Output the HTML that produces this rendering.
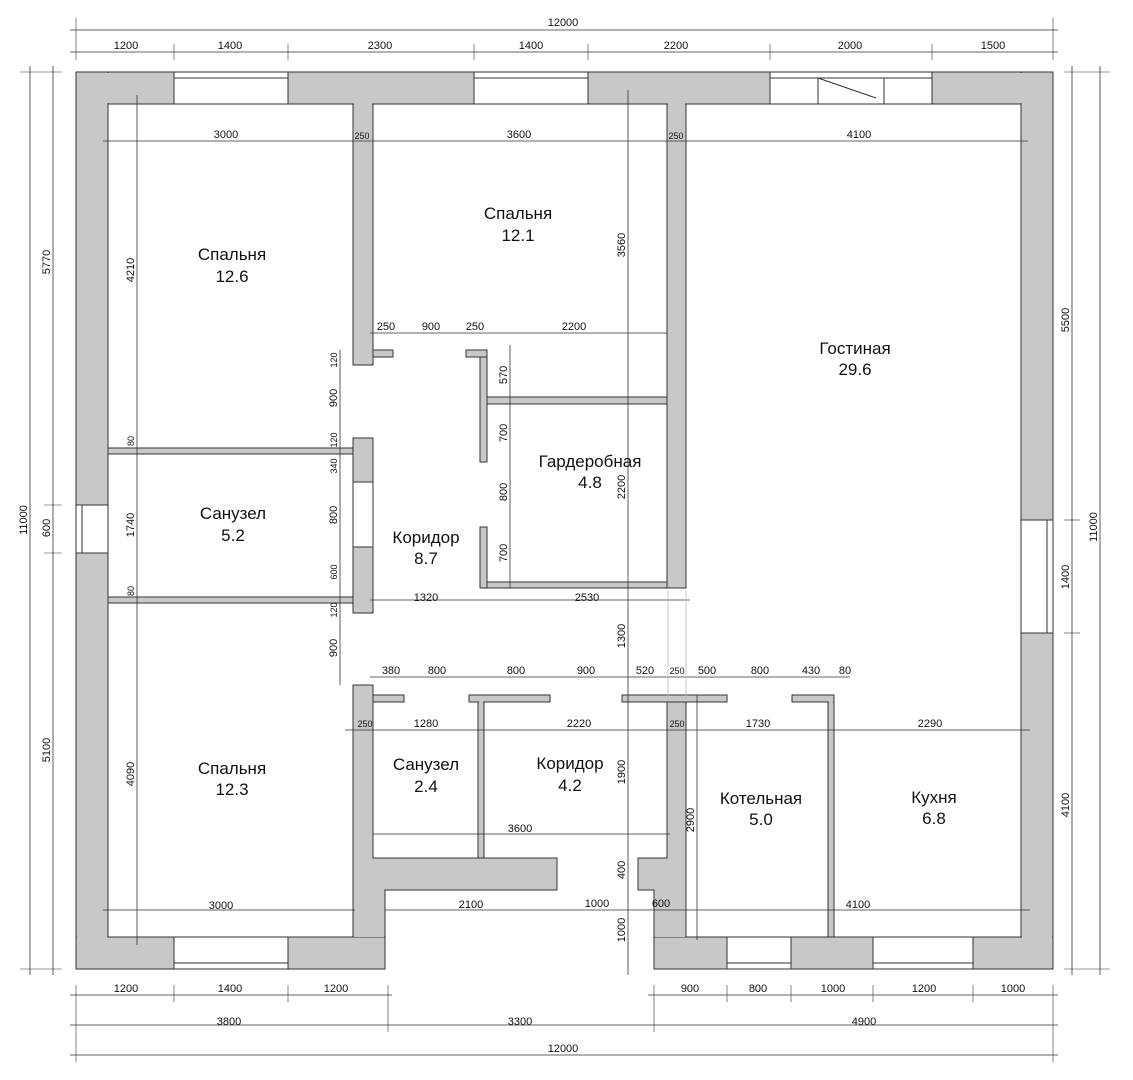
<!DOCTYPE html>
<html><head><meta charset="utf-8"><style>
html,body{margin:0;padding:0;background:#fff;}
svg{display:block;}
text{font-family:"Liberation Sans",sans-serif;fill:#111;}
.d{font-size:11px;}
.s{font-size:9px;}
.r{font-size:17px;}
</style></head><body>
<svg width="1133" height="1080" viewBox="0 0 1133 1080" xmlns="http://www.w3.org/2000/svg">
<g fill="#c8c8c8" stroke="#333" stroke-width="1">
<!-- outer walls -->
<rect x="76" y="72" width="977" height="32"/>
<rect x="76" y="72" width="32" height="897"/>
<rect x="1021" y="72" width="32" height="897"/>
<rect x="76" y="937" width="309" height="32"/>
<rect x="654" y="937" width="399" height="32"/>
<!-- upper interior -->
<rect x="353" y="104" width="20" height="261"/>
<rect x="373" y="350" width="20" height="7"/>
<rect x="667" y="104" width="19" height="484"/>
<rect x="466" y="350" width="21" height="7"/>
<rect x="480" y="357" width="7" height="105"/>
<rect x="480" y="527" width="7" height="61"/>
<rect x="487" y="582" width="180" height="6"/>
<rect x="487" y="397" width="180" height="7"/>
<!-- middle left -->
<rect x="108" y="448" width="245" height="6"/>
<rect x="108" y="597" width="245" height="6"/>
<rect x="353" y="438" width="20" height="175"/>
<!-- lower -->
<polygon points="353,685 373,685 373,858 557,858 557,890 385,890 385,937 353,937"/>
<polygon points="667,702 686,702 686,937 654,937 654,890 638,890 638,858 667,858"/>
<rect x="373" y="695" width="31" height="7"/>
<rect x="469" y="695" width="81" height="7"/>
<rect x="478" y="702" width="6" height="156"/>
<rect x="622" y="695" width="105" height="7"/>
<rect x="792" y="695" width="42" height="7"/>
<rect x="828" y="702" width="6" height="235"/>
</g>
<!-- cover joints -->
<g fill="#c8c8c8">
<rect x="77" y="73" width="975" height="30"/>
<rect x="77" y="73" width="30" height="895"/>
<rect x="1022" y="73" width="30" height="895"/>
<rect x="77" y="938" width="307" height="30"/>
<rect x="655" y="938" width="397" height="30"/>
<rect x="354" y="891" width="30" height="46"/>
<rect x="655" y="891" width="30" height="46"/>
<rect x="354" y="86" width="18" height="270"/>
<rect x="668" y="86" width="17" height="501"/>
<rect x="479" y="696" width="70" height="5"/>
<rect x="479" y="700" width="4" height="157"/>
<rect x="623" y="696" width="103" height="5"/>
<rect x="829" y="696" width="4" height="240"/>
</g>
<!-- windows / openings -->
<g fill="#fff" stroke="#333" stroke-width="1">
<rect x="174" y="72" width="114" height="32"/>
<rect x="474" y="72" width="114" height="32"/>
<rect x="770" y="72" width="162" height="32"/>
<rect x="770" y="78" width="48" height="26"/>
<rect x="884" y="78" width="48" height="26"/>
<rect x="76" y="505" width="32" height="48"/>
<rect x="1021" y="520" width="32" height="113"/>
<rect x="353" y="482" width="20" height="65"/>
<rect x="174" y="937" width="114" height="32"/>
<rect x="727" y="937" width="64" height="32"/>
<rect x="873" y="937" width="100" height="32"/>
</g>
<g stroke="#333" stroke-width="1" fill="none">
<line x1="770" y1="78" x2="932" y2="78"/>
<line x1="174" y1="78" x2="288" y2="78"/>
<line x1="474" y1="78" x2="588" y2="78"/>
<line x1="818" y1="78" x2="876" y2="98"/>
<line x1="82" y1="505" x2="82" y2="553"/>
<line x1="1047" y1="520" x2="1047" y2="633"/>
<line x1="174" y1="963" x2="288" y2="963"/>
<line x1="727" y1="963" x2="791" y2="963"/>
<line x1="873" y1="963" x2="973" y2="963"/>
<rect x="385" y="937" width="0" height="0"/>
</g>
<!-- dimension lines -->
<g stroke="#333" stroke-width="0.8" fill="none">
<line x1="70" y1="30" x2="1058" y2="30"/>
<line x1="70" y1="52" x2="1058" y2="52"/>
<line x1="70" y1="995" x2="392" y2="995"/>
<line x1="648" y1="995" x2="1058" y2="995"/>
<line x1="70" y1="1025" x2="1058" y2="1025"/>
<line x1="70" y1="1055" x2="1058" y2="1055"/>
<line x1="30" y1="66" x2="30" y2="975"/>
<line x1="53" y1="66" x2="53" y2="975"/>
<line x1="1072" y1="66" x2="1072" y2="975"/>
<line x1="1100" y1="66" x2="1100" y2="975"/>
<g stroke-width="0.6">
<line x1="76" y1="18" x2="76" y2="60"/><line x1="1053" y1="18" x2="1053" y2="60"/>
<line x1="174" y1="44" x2="174" y2="60"/><line x1="288" y1="44" x2="288" y2="60"/>
<line x1="474" y1="44" x2="474" y2="60"/><line x1="588" y1="44" x2="588" y2="60"/>
<line x1="770" y1="44" x2="770" y2="60"/><line x1="932" y1="44" x2="932" y2="60"/>
<line x1="76" y1="985" x2="76" y2="1062"/><line x1="1053" y1="985" x2="1053" y2="1062"/>
<line x1="174" y1="985" x2="174" y2="1002"/><line x1="288" y1="985" x2="288" y2="1002"/>
<line x1="388" y1="985" x2="388" y2="1032"/><line x1="654" y1="985" x2="654" y2="1032"/>
<line x1="727" y1="985" x2="727" y2="1002"/><line x1="791" y1="985" x2="791" y2="1002"/>
<line x1="873" y1="985" x2="873" y2="1002"/><line x1="973" y1="985" x2="973" y2="1002"/>
<line x1="20" y1="72" x2="62" y2="72"/><line x1="20" y1="969" x2="62" y2="969"/>
<line x1="1064" y1="72" x2="1110" y2="72"/><line x1="1064" y1="969" x2="1110" y2="969"/>
<line x1="44" y1="505" x2="62" y2="505"/><line x1="44" y1="553" x2="62" y2="553"/>
<line x1="1064" y1="520" x2="1080" y2="520"/><line x1="1064" y1="633" x2="1080" y2="633"/>
</g>
<line x1="103" y1="141" x2="1028" y2="141"/>
<line x1="370" y1="333" x2="667" y2="333"/>
<line x1="370" y1="600" x2="690" y2="600"/>
<line x1="370" y1="677" x2="850" y2="677"/>
<line x1="345" y1="730" x2="1030" y2="730"/>
<line x1="373" y1="834" x2="670" y2="834"/>
<line x1="103" y1="910" x2="355" y2="910"/>
<line x1="385" y1="910" x2="1030" y2="910"/>
<line x1="137" y1="95" x2="137" y2="945"/>
<line x1="340" y1="350" x2="340" y2="685"/>
<line x1="510" y1="345" x2="510" y2="588"/>
<line x1="628" y1="90" x2="628" y2="975"/>
<line x1="697" y1="695" x2="697" y2="940"/>
<line x1="668" y1="590" x2="668" y2="700" stroke="#bbb"/>
<line x1="686" y1="590" x2="686" y2="700" stroke="#bbb"/>
</g>
<!-- outer dim texts -->
<g class="d" text-anchor="middle">
<text x="563" y="26">12000</text>
<text x="126" y="49">1200</text><text x="230" y="49">1400</text><text x="380" y="49">2300</text>
<text x="531" y="49">1400</text><text x="676" y="49">2200</text><text x="850" y="49">2000</text><text x="993" y="49">1500</text>
<text x="126" y="992">1200</text><text x="230" y="992">1400</text><text x="336" y="992">1200</text>
<text x="690" y="992">900</text><text x="758" y="992">800</text><text x="833" y="992">1000</text><text x="924" y="992">1200</text><text x="1013" y="992">1000</text>
<text x="229" y="1025">3800</text><text x="520" y="1025">3300</text><text x="864" y="1025">4900</text>
<text x="563" y="1052">12000</text>
<text transform="translate(27,520) rotate(-90)">11000</text>
<text transform="translate(50,262) rotate(-90)">5770</text>
<text transform="translate(50,528) rotate(-90)">600</text>
<text transform="translate(50,750) rotate(-90)">5100</text>
<text transform="translate(1097,527) rotate(-90)">11000</text>
<text transform="translate(1069,320) rotate(-90)">5500</text>
<text transform="translate(1069,577) rotate(-90)">1400</text>
<text transform="translate(1069,805) rotate(-90)">4100</text>
</g>
<!-- interior dim texts -->
<g class="d" text-anchor="middle">
<text x="226" y="138">3000</text><text x="519" y="138">3600</text><text x="859" y="138">4100</text>
<text x="386" y="330">250</text><text x="431" y="330">900</text><text x="475" y="330">250</text><text x="574" y="330">2200</text>
<text x="426" y="601">1320</text><text x="587" y="601">2530</text>
<text x="391" y="674">380</text><text x="437" y="674">800</text><text x="516" y="674">800</text><text x="586" y="674">900</text>
<text x="645" y="674">520</text><text x="707" y="674">500</text><text x="760" y="674">800</text><text x="811" y="674">430</text><text x="845" y="674">80</text>
<text x="426" y="727">1280</text><text x="579" y="727">2220</text><text x="758" y="727">1730</text><text x="930" y="727">2290</text>
<text x="520" y="832">3600</text>
<text x="221" y="909">3000</text><text x="471" y="908">2100</text><text x="597" y="907">1000</text><text x="661" y="907">600</text><text x="858" y="908">4100</text>
<text transform="translate(134,270) rotate(-90)">4210</text>
<text transform="translate(134,525) rotate(-90)">1740</text>
<text transform="translate(134,774) rotate(-90)">4090</text>
<text transform="translate(337,398) rotate(-90)">900</text>
<text transform="translate(337,515) rotate(-90)">800</text>
<text transform="translate(337,648) rotate(-90)">900</text>
<text transform="translate(507,375) rotate(-90)">570</text>
<text transform="translate(507,433) rotate(-90)">700</text>
<text transform="translate(507,492) rotate(-90)">800</text>
<text transform="translate(507,553) rotate(-90)">700</text>
<text transform="translate(625,245) rotate(-90)">3560</text>
<text transform="translate(625,487) rotate(-90)">2200</text>
<text transform="translate(625,636) rotate(-90)">1300</text>
<text transform="translate(625,772) rotate(-90)">1900</text>
<text transform="translate(625,870) rotate(-90)">400</text>
<text transform="translate(625,930) rotate(-90)">1000</text>
<text transform="translate(694,820) rotate(-90)">2900</text>
</g>
<g class="s" text-anchor="middle">
<text x="362" y="139">250</text><text x="676" y="139">250</text>
<text x="677" y="674">250</text><text x="365" y="727">250</text><text x="677" y="727">250</text>
<text transform="translate(134,441) rotate(-90)">80</text>
<text transform="translate(134,591) rotate(-90)">80</text>
<text transform="translate(337,360) rotate(-90)">120</text>
<text transform="translate(337,440) rotate(-90)">120</text>
<text transform="translate(337,466) rotate(-90)">340</text>
<text transform="translate(337,572) rotate(-90)">600</text>
<text transform="translate(337,610) rotate(-90)">120</text>
</g>
<!-- room labels -->
<g class="r" text-anchor="middle">
<text x="232" y="260">Спальня</text><text x="232" y="282">12.6</text>
<text x="518" y="219">Спальня</text><text x="518" y="241">12.1</text>
<text x="855" y="354">Гостиная</text><text x="855" y="375">29.6</text>
<text x="590" y="467">Гардеробная</text><text x="590" y="488">4.8</text>
<text x="233" y="519">Санузел</text><text x="233" y="541">5.2</text>
<text x="426" y="543">Коридор</text><text x="426" y="564">8.7</text>
<text x="232" y="774">Спальня</text><text x="232" y="795">12.3</text>
<text x="426" y="770">Санузел</text><text x="426" y="792">2.4</text>
<text x="570" y="769">Коридор</text><text x="570" y="791">4.2</text>
<text x="761" y="804">Котельная</text><text x="761" y="825">5.0</text>
<text x="934" y="803">Кухня</text><text x="934" y="824">6.8</text>
</g>
</svg>
</body></html>
